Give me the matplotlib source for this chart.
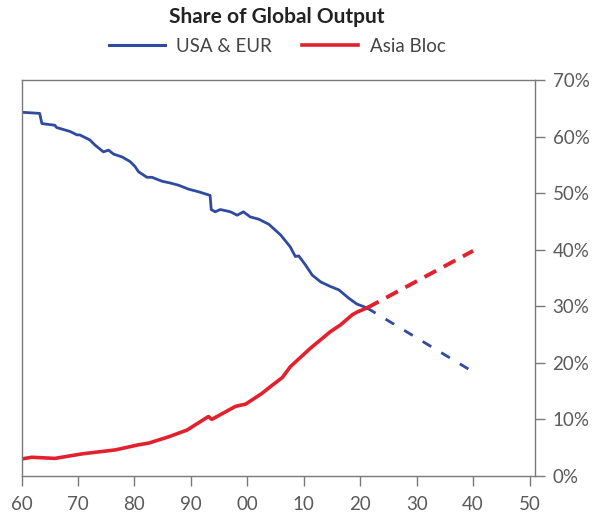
import numpy as np
import matplotlib
matplotlib.use("Agg")
import matplotlib.pyplot as plt
from matplotlib.lines import Line2D

plt.rcParams['font.family'] = ['Lato', 'DejaVu Sans']

# USA & EUR share, history (year, %)
usa_years = [1960, 1963.2, 1963.6, 1965.9, 1966.2, 1968.6, 1969.8, 1970.3, 1972.1, 1973.0,
             1974.5, 1975.4, 1976.3, 1977.8, 1979.2, 1980.1, 1980.7, 1982.2, 1983.1, 1984.9,
             1986.3, 1987.8, 1989.6, 1991.5, 1993.4, 1993.6, 1994.3, 1995.2, 1997.0, 1998.2,
             1999.3, 2000.5, 2002.0, 2003.8, 2005.9, 2007.6, 2008.5, 2009.1, 2010.3, 2011.5,
             2013.0, 2014.7, 2016.2, 2018.0, 2019.4, 2021.2]
usa_share = [64.3, 64.1, 62.3, 62.0, 61.6, 60.9, 60.3, 60.3, 59.4, 58.5,
             57.3, 57.6, 56.9, 56.4, 55.6, 54.7, 53.8, 52.8, 52.8, 52.1,
             51.8, 51.4, 50.7, 50.2, 49.6, 47.1, 46.7, 47.1, 46.7, 46.1,
             46.7, 45.8, 45.4, 44.5, 42.6, 40.5, 38.8, 38.9, 37.3, 35.5,
             34.3, 33.5, 32.9, 31.4, 30.4, 29.7]

# Asia Bloc share, history
asia_years = [1960, 1961.8, 1965.9, 1970.7, 1976.6, 1980.7, 1982.5, 1986.0, 1989.3, 1993.1,
              1993.7, 1997.9, 1999.7, 2002.6, 2004.1, 2006.2, 2007.6, 2011.2, 2014.7, 2016.5,
              2018.6, 2019.5, 2021.2]
asia_share = [3.0, 3.3, 3.1, 3.9, 4.6, 5.5, 5.8, 6.9, 8.1, 10.5,
              10.0, 12.3, 12.7, 14.6, 15.8, 17.4, 19.3, 22.6, 25.5, 26.7,
              28.5, 29.0, 29.7]

# projections
proj_years = [2021.2, 2040]
usa_proj = [29.7, 18.4]
asia_proj = [29.7, 39.8]

x_ticks = [1960, 1970, 1980, 1990, 2000, 2010, 2020, 2030, 2040, 2050]
x_labels = ['60', '70', '80', '90', '00', '10', '20', '30', '40', '50']
y_ticks = [0, 10, 20, 30, 40, 50, 60, 70]

blue = '#2F4A9E'
red = '#E3202E'
grey = '#7a7a7a'

fig = plt.figure(figsize=(6, 5.23), dpi=100)
ax = fig.add_axes([0.036, 0.09, 0.856, 0.757])

ax.plot(usa_years, usa_share, color=blue, lw=2.0)
ax.plot(asia_years, asia_share, color=red, lw=2.6)
ax.plot(proj_years, usa_proj, color=blue, lw=2.0, dashes=(3.6, 4.2))
ax.plot(proj_years, asia_proj, color=red, lw=2.8, dashes=(3.4, 2.2))

ax.set_xlim(1960, 2051)
ax.set_ylim(0, 70)
ax.set_xticks(x_ticks)
ax.set_xticklabels(x_labels)
ax.set_yticks(y_ticks)
ax.set_yticklabels([f'{v}%' for v in y_ticks])
ax.yaxis.tick_right()

for s in ax.spines.values():
    s.set_color(grey)
    s.set_linewidth(1.0)
ax.tick_params(axis='both', direction='out', length=7.5, width=1, color=grey,
               labelcolor='#5a5a5a', labelsize=13.5)
ax.tick_params(axis='x', pad=7)
ax.tick_params(axis='y', pad=5)

fig.text(0.462, 0.967, 'Share of Global Output', ha='center', va='center',
         fontsize=15, fontweight='bold', color='#222222')

handles = [Line2D([], [], color=blue, lw=2.2), Line2D([], [], color=red, lw=2.6)]
leg = fig.legend(handles, ['USA & EUR', 'Asia Bloc'], loc='center',
                 bbox_to_anchor=(0.462, 0.912), ncol=2, frameon=False,
                 fontsize=13.5, handlelength=3.0, handletextpad=0.6, columnspacing=1.6)
for t in leg.get_texts():
    t.set_color('#444444')

fig.savefig('out.png', dpi=100)
